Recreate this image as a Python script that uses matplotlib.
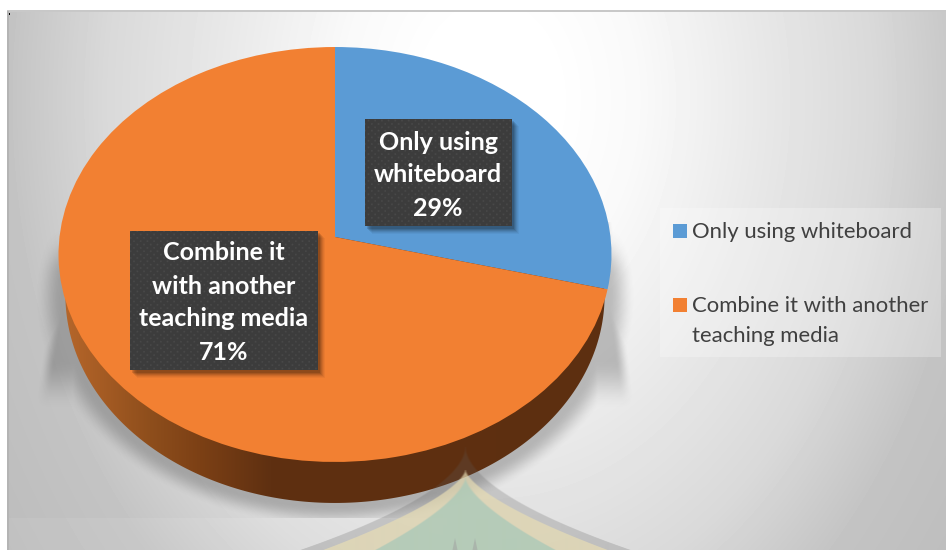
import numpy as np
import matplotlib
matplotlib.use('Agg')
import matplotlib.pyplot as plt
from matplotlib import transforms as mtransforms
from matplotlib.patches import Rectangle, Polygon

categories = ['Only using whiteboard', 'Combine it with another teaching media']
values = [29, 71]
label_lines = [['Only using', 'whiteboard'], ['Combine it', 'with another', 'teaching media']]
legend_lines = [['Only using whiteboard'], ['Combine it with another', 'teaching media']]
colors = ['#5B9BD5', '#F28032']

W, H = 946, 550
CX, CY = 335, 237
RX, TILT, RY = 275.5, 0.0843, 206.0
DEPTH = 41
TAPER = 0.975

plt.rcParams['font.family'] = ['Lato', 'DejaVu Sans']


# unit disc to pixels, tilted with a little perspective
def disc_to_px(u, v):
    w = 1 + TILT * v
    return CX + RX * u / w, CY - RY * v / w


class TiltedDisc(mtransforms.Transform):
    input_dims = 2
    output_dims = 2

    def transform_non_affine(self, values):
        x, y = disc_to_px(values[:, 0], values[:, 1])
        return np.column_stack([x, y])


def smooth(a):
    a = np.clip(a, 0, 1)
    return a * a * (3 - 2 * a)


fig = plt.figure(figsize=(W / 100, H / 100), dpi=100, facecolor='white')
ax = fig.add_axes([0, 0, 1, 1])
wedges, _ = ax.pie(values, startangle=90, counterclock=False, colors=colors, radius=1,
                   wedgeprops={'linewidth': 0, 'zorder': 5, 'clip_on': False})
ax.set_aspect('auto')
ax.set_xlim(0, W)
ax.set_ylim(H, 0)
ax.axis('off')

px, py = np.meshgrid(np.arange(7, W) + 0.5, np.arange(11, H) + 0.5)
extent = (7, W, H, 11)

# background gradient #
d = np.hypot(px - 490, (py - 100) * 0.75)
bg = 255 - np.interp(d, [60, 150, 277, 384, 483, 563, 600], [0, 6, 24, 38, 60, 65, 68])
bg = np.where((py > 518) & (px < 470), bg + 4, bg)
ax.imshow(bg, cmap='gray', vmin=0, vmax=255, extent=extent,
          aspect='auto', zorder=0, interpolation='nearest')

# soft shadow under the disc #
r = np.hypot((px - CX) / (RX * TAPER + 4), (py - 297) / 209)
shadow = 0.30 * smooth(1 - (r - 1) * 240 / 24)
shadow = np.where(py > 518, 0, shadow)
shadow = shadow * smooth((py - 225) / 50)
xl = 62 - (py - 225) * 22 / 145
xr = 612 + (py - 222) * 18 / 148
side = 0.30 * np.maximum(np.where(px < CX, smooth((px - xl) / 14), 0),
                         np.where(px > CX, smooth((xr - px) / 14), 0))
side = side * smooth((410 - py) / 50) * (py > 222)
shadow_rgba = np.zeros(px.shape + (4,))
shadow_rgba[..., :3] = 0.22
shadow_rgba[..., 3] = np.maximum(shadow, side)
ax.imshow(shadow_rgba, extent=extent, aspect='auto', zorder=1, interpolation='bilinear')

# side wall of the disc, darkening to the right #
theta = np.linspace(0, 2 * np.pi, 361)
rim_x, rim_y = disc_to_px(np.cos(theta), np.sin(theta))
low_x = CX + (rim_x - CX) * TAPER
low_y = rim_y + DEPTH
stop_x = [58, 100, 150, 200, 270, 946]
stop_r = [184, 166, 142, 124, 95, 92]
stop_g = [104, 92, 78, 64, 48, 46]
stop_b = [44, 36, 28, 21, 17, 16]
gx = np.arange(W) + 0.5
wall = np.stack([np.interp(gx, stop_x, stop_r), np.interp(gx, stop_x, stop_g),
                 np.interp(gx, stop_x, stop_b)], axis=-1)[None, :, :] / 255
wall_img = ax.imshow(wall, extent=(0, W, H, 0), aspect='auto', zorder=3, interpolation='bilinear')
low_poly = Polygon(np.column_stack([low_x, low_y]), closed=True, transform=ax.transData)
wall_img.set_clip_path(low_poly)

# top face, from the values through the pie wedges #
disc = TiltedDisc() + ax.transData
for wedge in wedges:
    wedge.set_transform(disc)


# faded crest printed over everything, soft edged #
def crest_band(y0, reach, power, color, alpha, z=6):
    hw = reach * (np.clip(py - y0, 0, None) / (H - y0)) ** power
    rgba = np.zeros(px.shape + (4,))
    rgba[..., :3] = matplotlib.colors.to_rgb(color)
    rgba[..., 3] = alpha * smooth((hw - np.abs(px - 465) + 1.5) / 3) * (py > y0)
    ax.imshow(rgba, extent=extent, aspect='auto', zorder=z, interpolation='bilinear')


crest_band(447, 165, 1.8, '#606060', 0.24)
crest_band(470, 142, 1.5, '#EADFB4', 0.68)
crest_band(478, 90, 1.5, '#ACC9B8', 0.80)
for spike_x in [455, 475]:
    ax.add_patch(Polygon([(spike_x - 2.5, H), (spike_x, 538), (spike_x + 2.5, H)], closed=True,
                         facecolor='#A0A0A0', edgecolor='none', alpha=0.5, zorder=6))

# frame lines along the top and left #
ax.add_patch(Rectangle((7, 10), W - 7, 2, facecolor='#C8C8C8', edgecolor='none', zorder=7))
ax.add_patch(Rectangle((7, 11), 1.5, H - 11, facecolor='#B4B4B4', edgecolor='none', zorder=7))
ax.add_patch(Rectangle((9, 13), 1, 2, facecolor='black', edgecolor='none', zorder=7))

LABEL_SIZE = 18


# dark data label box with a dotted texture and drop shadow #
def label_box(x0, y0, x1, y1, lines, line_centers):
    for off, alpha in zip([8, 7, 6, 5, 4, 3], [0.04, 0.05, 0.07, 0.09, 0.11, 0.13]):
        ax.add_patch(Rectangle((x0 + off - 1, y0 + off - 1), x1 - x0 + 1, y1 - y0 + 1,
                               facecolor='black', edgecolor='none', alpha=alpha, zorder=8))
    bx, by = np.meshgrid(np.arange(x0, x1) + 0.5, np.arange(y0, y1) + 0.5)
    dots = np.cos(2 * np.pi * bx / 6.7) * np.cos(2 * np.pi * by / 6.7)
    tex = 60 + 13 * np.clip(dots, 0, 1) ** 2
    ax.imshow(tex, cmap='gray', vmin=0, vmax=255, extent=(x0, x1, y1, y0), aspect='auto',
              zorder=9, interpolation='nearest')
    for line, yc in zip(lines, line_centers):
        ax.text((x0 + x1) / 2, yc, line, color='white', fontsize=LABEL_SIZE, fontweight='bold',
                ha='center', va='center', zorder=10)


label_box(365, 119, 511, 226, label_lines[0] + [f'{values[0]}%'], [143, 175, 208])
label_box(130, 231, 317, 370, label_lines[1] + [f'{values[1]}%'], [253, 287, 319, 352])

# legend #
ax.add_patch(Rectangle((660, 208), 281, 149, facecolor='white', edgecolor='none', alpha=0.25, zorder=2))
legend_y = [[232], [306, 336]]
for color, lines, ys in zip(colors, legend_lines, legend_y):
    ax.add_patch(Rectangle((673, ys[0] - 8), 14, 14, facecolor=color, edgecolor='none', zorder=3))
    for line, y in zip(lines, ys):
        ax.text(692, y, line, color='#404040', fontsize=15.9, ha='left', va='center', zorder=3)

ax.set_xlim(0, W)
ax.set_ylim(H, 0)
fig.savefig('out.png', dpi=100)
